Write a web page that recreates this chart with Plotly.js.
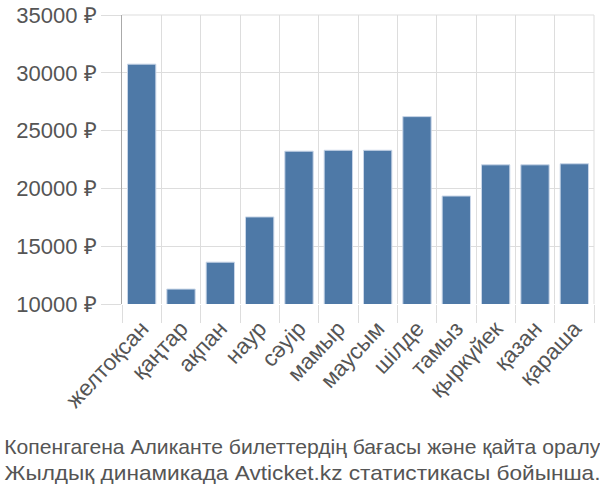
<!DOCTYPE html>
<html>
<head>
<meta charset="utf-8">
<script src="https://cdn.plot.ly/plotly-3.0.1.min.js"></script>
<style>html,body{margin:0;padding:0;background:#fff}#chart{width:600px;height:500px}</style>
</head>
<body>
<div id="chart"></div>
<script>
const months = ["желтоқсан","қаңтар","ақпан","наур","сәуір","мамыр","маусым","шілде","тамыз","қыркүйек","қазан","қараша"];
const prices = [30750, 11290, 13620, 17530, 23220, 23300, 23300, 26210, 19340, 22040, 22040, 22130];
const yTicks = [10000, 15000, 20000, 25000, 30000, 35000];
const yTickLabels = yTicks.map(v => v + " ₽");
const captionLines = ["Копенгагена Аликанте билеттердің бағасы және қайта оралу", "Жылдық динамикада Avticket.kz статистикасы бойынша."];

const trace = {
  type: "bar",
  x: months,
  y: prices,
  marker: {color: "#4e79a7", line: {color: "#c9d6e8", width: 1}},
  hoverinfo: "x+y"
};

const layout = {
  width: 600, height: 500,
  margin: {l: 122, r: 6, t: 15, b: 196},
  paper_bgcolor: "#fff", plot_bgcolor: "#fff",
  bargap: 0.28,
  showlegend: false,
  font: {family: "Liberation Sans", color: "#555"},
  xaxis: {
    type: "category",
    tickson: "boundaries",
    ticks: "outside", ticklen: 18, tickcolor: "#ddd", tickwidth: 1,
    showgrid: true, gridcolor: "#ddd", gridwidth: 1,
    tickangle: -47,
    ticklabelstandoff: 6,
    tickfont: {family: "Liberation Sans", size: 22.5, color: "#555"},
    showline: false, zeroline: false
  },
  yaxis: {
    range: [10000, 35000],
    tickvals: yTicks, ticktext: yTickLabels,
    ticks: "outside", ticklen: 20, tickcolor: "#ddd", tickwidth: 1,
    showgrid: true, gridcolor: "#ddd", gridwidth: 1,
    tickfont: {family: "Liberation Sans", size: 22, color: "#555"},
    showline: true, linecolor: "#aaa", linewidth: 1,
    zeroline: false
  },
  annotations: captionLines.map((t, i) => ({
    text: t, xref: "paper", yref: "paper",
    x: 0.5, xanchor: "center", xshift: -(122 - 6) / 2 + 2,
    y: 0, yanchor: "middle",
    yshift: -(446 - 304) - i * 26.5,
    showarrow: false,
    font: {family: "Liberation Sans", size: 21, color: "#555"}
  })),
  shapes: [
    {type: "line", xref: "paper", yref: "paper", x0: 1, x1: 1, y0: 0, y1: 1, line: {color: "#ddd", width: 1}},
    {type: "line", xref: "paper", yref: "paper", x0: 0, x1: 1, y0: 1, y1: 1, line: {color: "#ddd", width: 1}}
  ]
};

Plotly.newPlot("chart", [trace], layout, {displayModeBar: false, staticPlot: true}).then(gd => {
  // each caption line is fitted to the full chart width, as in the reference
  gd.querySelectorAll(".annotation-text").forEach(el => {
    el.setAttribute("textLength", "596");
    el.setAttribute("lengthAdjust", "spacingAndGlyphs");
  });
});
</script>
</body>
</html>
